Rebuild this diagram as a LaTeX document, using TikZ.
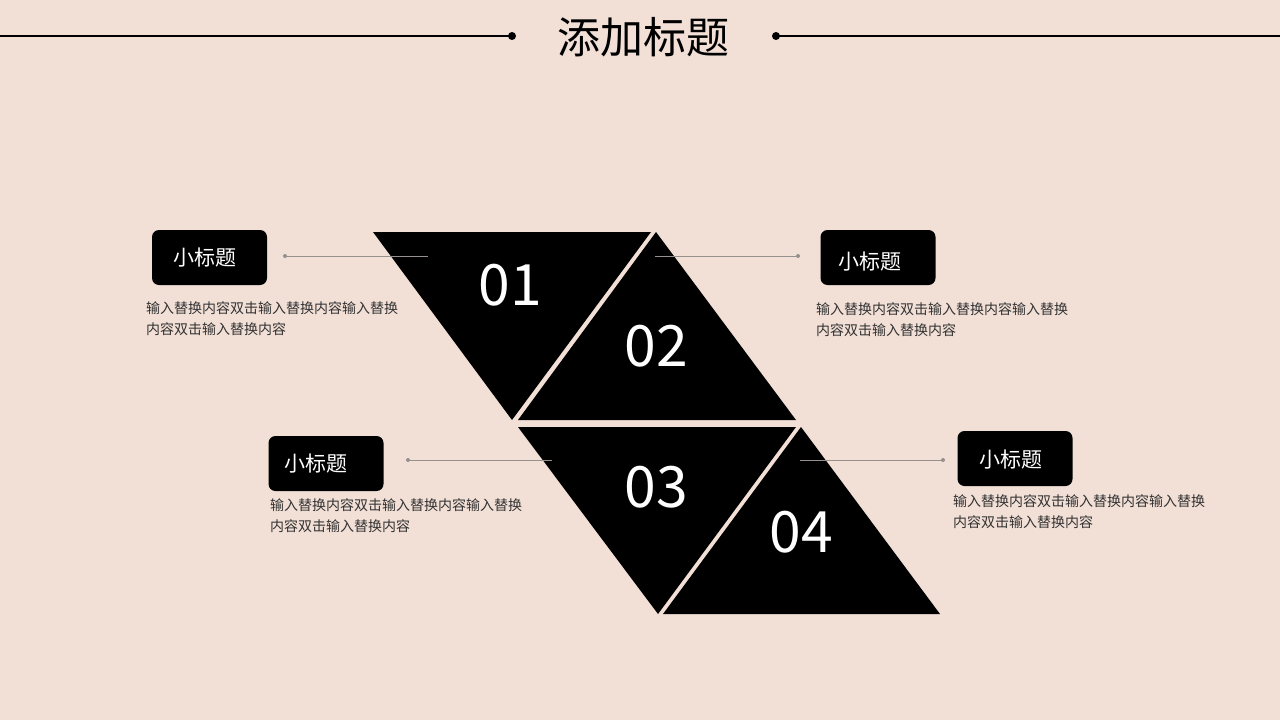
\documentclass[tikz,border=0pt]{standalone}
\usepackage{fontspec}
\setmainfont{Noto Sans CJK SC}
\definecolor{bg}{RGB}{242,224,215}
\definecolor{conn}{RGB}{150,145,142}
\definecolor{desc}{RGB}{50,50,50}
\begin{document}
\begin{tikzpicture}[x=1pt,y=-1pt,
  tri/.style={fill=black,draw=none},
  numtxt/.style={text=white,font=\fontsize{57}{57}\selectfont,inner sep=0},
  subbox/.style={fill=black,rounded corners=7pt,minimum width=115pt,minimum height=55pt,inner sep=0},
  subtxt/.style={text=white,font=\fontsize{21}{21}\selectfont,inner sep=0,yshift=-2pt},
  desctxt/.style={anchor=north west,align=left,inner sep=0,text=desc,font=\fontsize{14}{21}\selectfont},
  connline/.style={draw=conn,line width=0.9pt},
  conndot/.style={circle,fill=conn,inner sep=0,minimum size=4pt},
  titleline/.style={line width=1.8pt,draw=black},
  titledot/.style={circle,fill=black,inner sep=0,minimum size=8pt}]
\fill[bg] (0,0) rectangle (1280,720);
\useasboundingbox (0,0) rectangle (1280,720);

% title
\node[font=\fontsize{43}{43}\selectfont,inner sep=0] (title) at (643,37) {添加标题};
\coordinate (tl0) at (0,36);
\coordinate (tr0) at (1280,36);
\node[titledot] (tdl) at (512,36) {};
\node[titledot] (tdr) at (776,36) {};
\draw[titleline] (tl0) -- (tdl.center);
\draw[titleline] (tdr.center) -- (tr0);

% triangles
\fill[tri] (373,232) -- (651,232) -- (512,420) -- cycle;
\fill[tri] (656,232) -- (796,420) -- (518,420) -- cycle;
\fill[tri] (518,427) -- (796,427) -- (658,614) -- cycle;
\fill[tri] (801,427) -- (940,614) -- (663,614) -- cycle;

\node[numtxt] (n1) at (510,285) {01};
\node[numtxt] (n2) at (656,346) {02};
\node[numtxt] (n3) at (656,487) {03};
\node[numtxt] (n4) at (801,532) {04};

% connectors
\node[conndot] (c1d) at (285,256) {};
\coordinate (c1e) at (428,256);
\draw[connline] (c1d.center) -- (c1e);
\coordinate (c2e) at (655,256);
\node[conndot] (c2d) at (798,256) {};
\draw[connline] (c2e) -- (c2d.center);
\node[conndot] (c3d) at (408,460) {};
\coordinate (c3e) at (552,460);
\draw[connline] (c3d.center) -- (c3e);
\coordinate (c4e) at (800,460);
\node[conndot] (c4d) at (943,460) {};
\draw[connline] (c4e) -- (c4d.center);

% sub-title boxes
\node[subbox] (b1) at (209.5,257.5) {};
\node[subbox] (b2) at (878,257.5) {};
\node[subbox] (b3) at (326,463.5) {};
\node[subbox] (b4) at (1015,458.5) {};
\node[subtxt] (b1t) at (205,256) {小标题};
\node[subtxt] (b2t) at (870,260) {小标题};
\node[subtxt] (b3t) at (316,462) {小标题};
\node[subtxt] (b4t) at (1011,458) {小标题};

% descriptions
\node[desctxt] (d1) at (146,301) {输入替换内容双击输入替换内容输入替换\\内容双击输入替换内容};
\node[desctxt] (d2) at (816,302) {输入替换内容双击输入替换内容输入替换\\内容双击输入替换内容};
\node[desctxt] (d3) at (270,498) {输入替换内容双击输入替换内容输入替换\\内容双击输入替换内容};
\node[desctxt] (d4) at (953,494) {输入替换内容双击输入替换内容输入替换\\内容双击输入替换内容};
\end{tikzpicture}
\end{document}
